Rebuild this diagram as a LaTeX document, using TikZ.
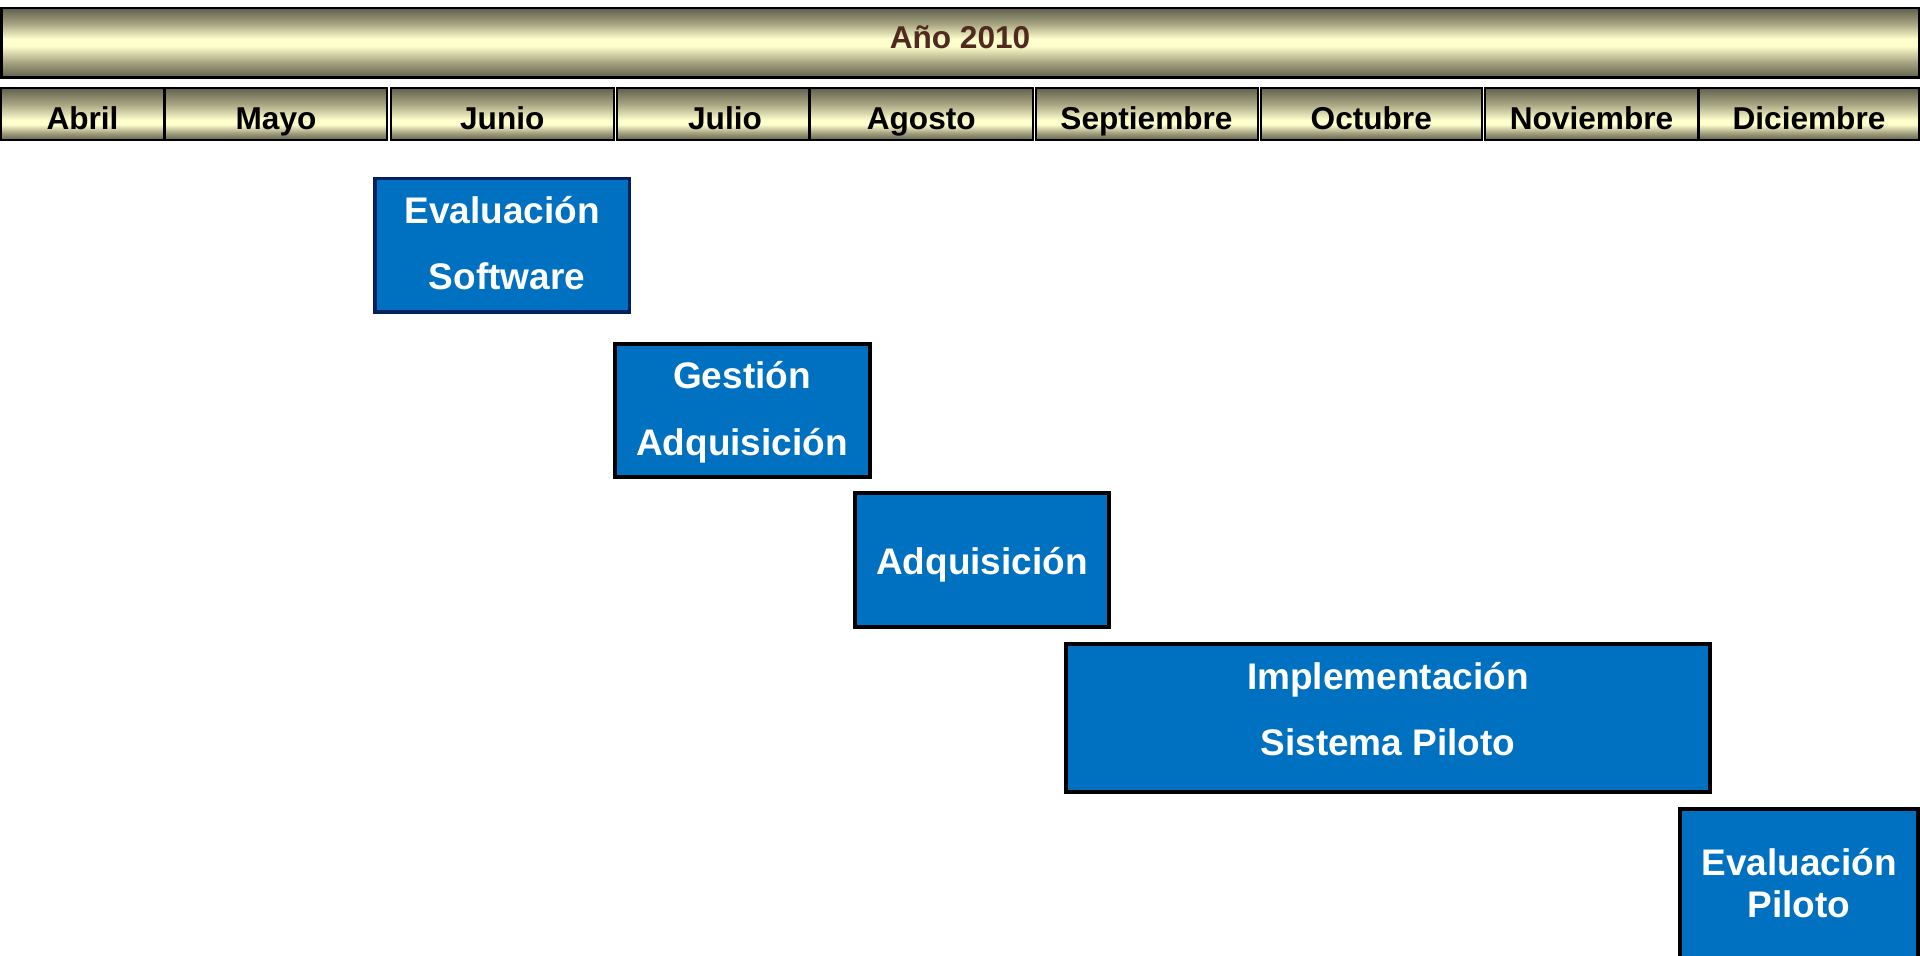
\documentclass[tikz,border=0pt]{standalone}
\usepackage{fontspec}
\setmainfont{Liberation Sans}
\definecolor{shDark}{RGB}{98,96,76}
\definecolor{shMid}{RGB}{165,163,128}
\definecolor{shLight}{RGB}{255,255,206}
\definecolor{boxBlue}{RGB}{0,112,192}
\definecolor{navyBorder}{RGB}{0,32,96}
\definecolor{yearBrown}{RGB}{80,42,30}
\pgfdeclareverticalshading{barshade}{100bp}{color(0bp)=(shDark); color(25bp)=(shDark); color(36bp)=(shMid); color(48bp)=(shLight); color(53bp)=(shLight); color(64bp)=(shMid); color(75bp)=(shDark); color(100bp)=(shDark)}
\pgfdeclareverticalshading{monthshade}{100bp}{color(0bp)=(shDark); color(25bp)=(shDark); color(32bp)=(shMid); color(40bp)=(shLight); color(44bp)=(shLight); color(60bp)=(shMid); color(75bp)=(shDark); color(100bp)=(shDark)}
\tikzset{
  yearbar/.style={draw=black, line width=1.25pt, shade, shading=barshade, inner sep=0pt,
    minimum width=958.75pt, minimum height=34.75pt, text height=6pt, text depth=0pt,
    font=\fontsize{15.8}{18}\selectfont\bfseries, text=yearBrown},
  monthcell/.style={draw=black, line width=1pt, shade, shading=monthshade, inner sep=0pt,
    minimum height=26pt, text height=15.5pt, text depth=0pt,
    font=\fontsize{15.8}{18}\selectfont\bfseries, text=black},
  taskbox/.style={draw=black, line width=2pt, fill=boxBlue, inner sep=0pt},
  tasktext/.style={anchor=base, inner sep=0pt, text=white, font=\fontsize{18.5}{22}\selectfont\bfseries}
}
\begin{document}
\begin{tikzpicture}[x=0.5pt,y=-0.5pt]
\clip (0,0) rectangle (1920,956);
\fill[white] (0,0) rectangle (1920,956);
% year bar
\node[yearbar] (year) at (960,43) {Año 2010};
% months
\node[monthcell, minimum width=81.5pt]  (abril) at (82.5,114) {Abril};
\node[monthcell, minimum width=111pt]   (mayo) at (276,114) {Mayo};
\node[monthcell, minimum width=111.75pt] (junio) at (502.25,114) {Junio};
\node[monthcell, minimum width=96pt]    (julio) at (713,114) {};
\node[anchor=base, inner sep=0pt, font=\fontsize{15.8}{18}\selectfont\bfseries] (juliot) at (725,129.5) {Julio};
\node[monthcell, minimum width=111.25pt] (agosto) at (921.25,114) {Agosto};
\node[monthcell, minimum width=111pt]   (sept) at (1146.5,114) {Septiembre};
\node[monthcell, minimum width=110.75pt] (oct) at (1371.25,114) {Octubre};
\node[monthcell, minimum width=106.5pt] (nov) at (1591.5,114) {Noviembre};
\node[monthcell, minimum width=110pt]   (dic) at (1809,114) {Diciembre};
% task boxes
\node[taskbox, draw=navyBorder, line width=1.75pt, minimum width=127.25pt, minimum height=66.75pt] (b1) at (502,245.5) {};
\node[tasktext] (b1a) at (502,224) {Evaluación};
\node[tasktext] (b1b) at (507,290) {Software};
\node[taskbox, minimum width=127.5pt, minimum height=66.5pt] (b2) at (742.5,410.5) {};
\node[tasktext] (b2a) at (742,389) {Gestión};
\node[tasktext] (b2b) at (742,456) {Adquisición};
\node[taskbox, minimum width=127pt, minimum height=67pt] (b3) at (982,560) {};
\node[tasktext] (b3a) at (982,574.5) {Adquisición};
\node[taskbox, minimum width=322pt, minimum height=74pt] (b4) at (1388,718) {};
\node[tasktext] (b4a) at (1388,689.3) {Implementación};
\node[tasktext] (b4b) at (1388,755.3) {Sistema Piloto};
\node[taskbox, minimum width=119pt, minimum height=95.5pt] (b5) at (1799,904.5) {};
\node[tasktext] (b5a) at (1799,875) {Evaluación};
\node[tasktext] (b5b) at (1799,917.7) {Piloto};
\end{tikzpicture}
\end{document}
